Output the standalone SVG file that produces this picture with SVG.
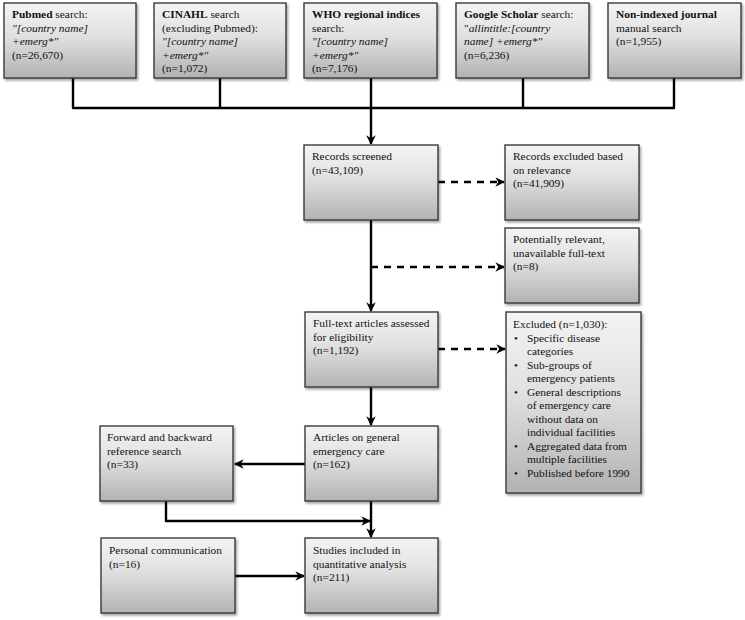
<svg xmlns="http://www.w3.org/2000/svg" width="745" height="620" viewBox="0 0 745 620">
<defs>
<linearGradient id="g" x1="0" y1="0" x2="0" y2="1">
<stop offset="0" stop-color="#f4f4f4"/>
<stop offset="0.45" stop-color="#e0e0e0"/>
<stop offset="1" stop-color="#b2b2b2"/>
</linearGradient>
<filter id="sh" x="-10%" y="-10%" width="125%" height="125%">
<feDropShadow dx="1.5" dy="2" stdDeviation="1.2" flood-color="#000" flood-opacity="0.35"/>
</filter>
<marker id="ah" viewBox="0 0 10 10" refX="9" refY="5" markerWidth="4" markerHeight="4" orient="auto" markerUnits="strokeWidth">
<path d="M0,0 L10,5 L0,10 L3,5 z" fill="#000"/>
</marker>
</defs>
<style>
.box{fill:url(#g);stroke:#3a3a3a;stroke-width:1.4;filter:url(#sh)}
text{font-family:"Liberation Serif","Times New Roman",serif;font-size:11.4px;fill:#111}
.b{font-weight:bold}
.i{font-style:italic}
.c{fill:none;stroke:#000;stroke-width:2.4;stroke-linejoin:round}
.d{fill:none;stroke:#000;stroke-width:2.4;stroke-dasharray:7,6}
</style>
<rect width="745" height="620" fill="#fff"/>

<g id="connectors">
<path class="c" d="M73,78 V108 H674 V78"/>
<path class="c" d="M220,78 V108"/>
<path class="c" d="M523,78 V108"/>
<path class="c" d="M371,78 V144" marker-end="url(#ah)"/>
<path class="d" d="M438,182 H504" marker-end="url(#ah)"/>
<path class="c" d="M371,220 V311" marker-end="url(#ah)"/>
<path class="d" d="M371,267 H504" marker-end="url(#ah)"/>
<path class="d" d="M438,349 H505" marker-end="url(#ah)"/>
<path class="c" d="M371,387 V425" marker-end="url(#ah)"/>
<path class="c" d="M305,464 H235" marker-end="url(#ah)"/>
<path class="c" d="M166,501 V521 H370" marker-end="url(#ah)"/>
<path class="c" d="M371,501 V537" marker-end="url(#ah)"/>
<path class="c" d="M235,576 H304" marker-end="url(#ah)"/>
</g>

<g id="pubmed">
<rect class="box" x="4" y="3" width="132" height="75"/>
<text x="12" y="18"><tspan class="b">Pubmed</tspan> search:</text>
<text x="12" y="31.5" class="i">"[country name]</text>
<text x="12" y="45" class="i">+emerg*"</text>
<text x="12" y="58.5">(n=26,670)</text>
</g>

<g id="cinahl">
<rect class="box" x="154" y="3" width="132" height="75"/>
<text x="162" y="18"><tspan class="b">CINAHL</tspan> search</text>
<text x="162" y="31.5">(excluding Pubmed):</text>
<text x="162" y="45" class="i">"[country name]</text>
<text x="162" y="58.5" class="i">+emerg*"</text>
<text x="162" y="72">(n=1,072)</text>
</g>

<g id="who">
<rect class="box" x="304" y="3" width="133" height="75"/>
<text x="312" y="18" class="b">WHO regional indices</text>
<text x="312" y="31.5">search:</text>
<text x="312" y="45" class="i">"[country name]</text>
<text x="312" y="58.5" class="i">+emerg*"</text>
<text x="312" y="72">(n=7,176)</text>
</g>

<g id="scholar">
<rect class="box" x="456" y="3" width="133" height="75"/>
<text x="464" y="18"><tspan class="b">Google Scholar</tspan> search:</text>
<text x="464" y="31.5">"<tspan class="i">allintitle:[country</tspan></text>
<text x="464" y="45" class="i">name] +emerg*"</text>
<text x="464" y="58.5">(n=6,236)</text>
</g>

<g id="nonindexed">
<rect class="box" x="608" y="3" width="133" height="75"/>
<text x="616" y="18" class="b">Non-indexed journal</text>
<text x="616" y="31.5">manual search</text>
<text x="616" y="45">(n=1,955)</text>
</g>

<g id="screened">
<rect class="box" x="304" y="145" width="134" height="75"/>
<text x="312" y="160">Records screened</text>
<text x="312" y="173.5">(n=43,109)</text>
</g>

<g id="excluded-relevance">
<rect class="box" x="505" y="145" width="134" height="75"/>
<text x="513" y="160">Records excluded based</text>
<text x="513" y="173.5">on relevance</text>
<text x="513" y="187">(n=41,909)</text>
</g>

<g id="unavailable">
<rect class="box" x="505" y="228" width="134" height="75"/>
<text x="513" y="243">Potentially relevant,</text>
<text x="513" y="256.5">unavailable full-text</text>
<text x="513" y="270">(n=8)</text>
</g>

<g id="fulltext">
<rect class="box" x="305" y="312" width="133" height="75"/>
<text x="313" y="327">Full-text articles assessed</text>
<text x="313" y="340.5">for eligibility</text>
<text x="313" y="354">(n=1,192)</text>
</g>

<g id="excluded">
<rect class="box" x="506" y="312" width="135" height="181"/>
<text x="513" y="328">Excluded (n=1,030):</text>
<text x="514" y="341.5">•</text><text x="527" y="341.5">Specific disease</text>
<text x="527" y="355">categories</text>
<text x="514" y="368.5">•</text><text x="527" y="368.5">Sub-groups of</text>
<text x="527" y="382">emergency patients</text>
<text x="514" y="395.5">•</text><text x="527" y="395.5">General descriptions</text>
<text x="527" y="409">of emergency care</text>
<text x="527" y="422.5">without data on</text>
<text x="527" y="436">individual facilities</text>
<text x="514" y="449.5">•</text><text x="527" y="449.5">Aggregated data from</text>
<text x="527" y="463">multiple facilities</text>
<text x="514" y="477">•</text><text x="527" y="477">Published before 1990</text>
</g>

<g id="articles">
<rect class="box" x="305" y="426" width="133" height="75"/>
<text x="313" y="441">Articles on general</text>
<text x="313" y="454.5">emergency care</text>
<text x="313" y="468">(n=162)</text>
</g>

<g id="forward">
<rect class="box" x="100" y="426" width="133" height="75"/>
<text x="107" y="441">Forward and backward</text>
<text x="107" y="454.5">reference search</text>
<text x="107" y="468">(n=33)</text>
</g>

<g id="personal">
<rect class="box" x="101" y="538" width="134" height="75"/>
<text x="109" y="554">Personal communication</text>
<text x="109" y="567.5">(n=16)</text>
</g>

<g id="studies">
<rect class="box" x="305" y="538" width="133" height="75"/>
<text x="313" y="554">Studies included in</text>
<text x="313" y="567.5">quantitative analysis</text>
<text x="313" y="581">(n=211)</text>
</g>
</svg>
